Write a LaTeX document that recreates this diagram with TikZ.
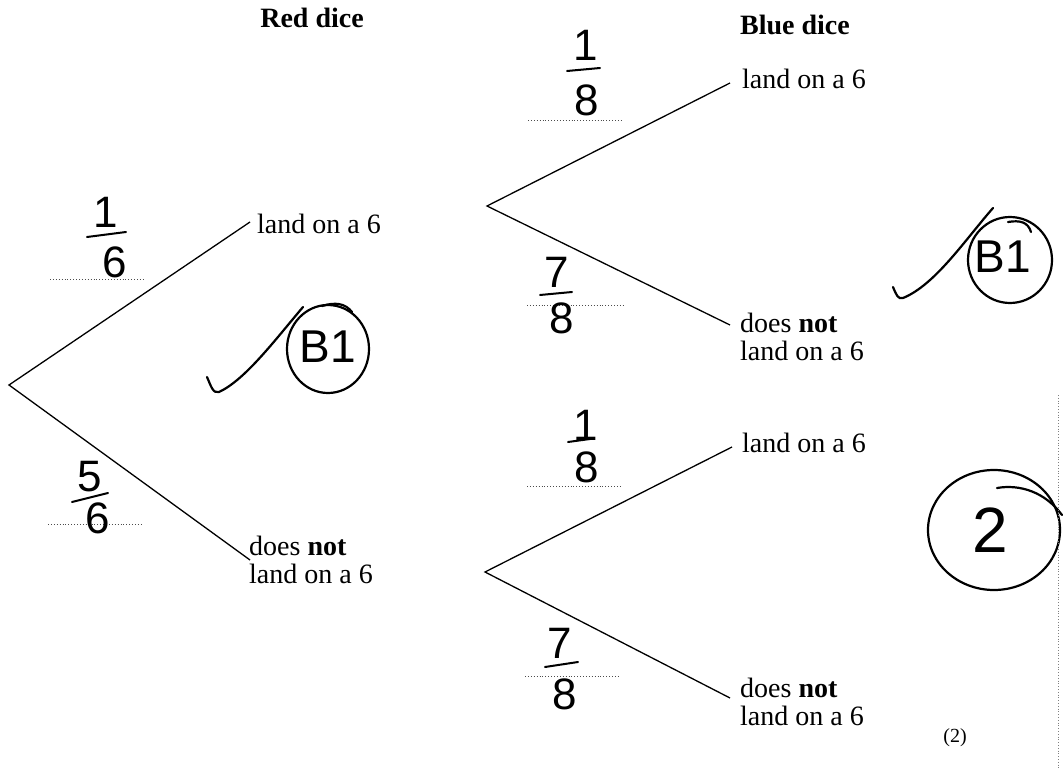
\documentclass[tikz,border=0pt]{standalone}
\usepackage{fontspec}
\setmainfont{Liberation Serif}
\newfontfamily\handfont{Liberation Sans}
\begin{document}
\begin{tikzpicture}[x=1pt,y=-1pt,
  branch/.style={line width=1.3pt},
  lbl/.style={font=\fontsize{28}{28}\selectfont, anchor=west, align=left, inner sep=0pt},
  head/.style={font=\fontsize{28}{28}\selectfont\bfseries, inner sep=0pt},
  digit/.style={font=\handfont\fontsize{44}{44}\selectfont, inner sep=0pt},
  handtext/.style={font=\handfont\fontsize{46}{46}\selectfont, inner sep=0pt},
  fbar/.style={line width=2pt, line cap=round},
  dotline/.style={dotted, line width=0.9pt, black!70},
  hand/.style={line width=2.2pt, line cap=round, line join=round}]
\useasboundingbox (0,0) rectangle (1063,770);

% headings
\node[head] (redh) at (312,18) {Red dice};
\node[head] (blueh) at (795,25) {Blue dice};

% red tree
\coordinate (R0) at (9,385);
\coordinate (R1) at (250,222);
\coordinate (R2) at (250,560);
\draw[branch] (R1) -- (R0) -- (R2);
\node[lbl] (r1) at (257,224) {land on a 6};
\node[lbl] (r2) at (249,560) {does \textbf{not}\\land on a 6};

% blue upper tree
\coordinate (B0) at (487,206);
\coordinate (B1) at (730,83);
\coordinate (B2) at (730,325);
\draw[branch] (B1) -- (B0) -- (B2);
\node[lbl] (b1) at (742,79) {land on a 6};
\node[lbl] (b2) at (740,337) {does \textbf{not}\\land on a 6};

% blue lower tree
\coordinate (C0) at (485,572);
\coordinate (C1) at (732,447);
\coordinate (C2) at (730,698);
\draw[branch] (C1) -- (C0) -- (C2);
\node[lbl] (c1) at (742,443) {land on a 6};
\node[lbl] (c2) at (740,702) {does \textbf{not}\\land on a 6};

% fractions: red 1/6
\draw[dotline] (50,279) -- (145,279);
\node[digit] (n1) at (106,212) {1};
\draw[fbar] (87,237) -- (126,232);
\node[digit] (d1) at (115,262) {6};
% red 5/6
\draw[dotline] (48,524) -- (143,524);
\node[digit] (n2) at (90,477) {5};
\draw[fbar] (72,502) -- (108,493);
\node[digit] (d2) at (98,518) {6};
% blue upper 1/8
\draw[dotline] (528,120) -- (623,120);
\node[digit] (n3) at (586,45) {1};
\draw[fbar] (567,71) -- (600,68);
\node[digit] (d3) at (587,100) {8};
% blue upper 7/8
\draw[dotline] (527,305) -- (623,305);
\node[digit] (n4) at (557,272) {7};
\draw[fbar] (540,295) -- (572,292);
\node[digit] (d4) at (562,318) {8};
% blue lower 1/8
\draw[dotline] (527,486) -- (622,486);
\node[digit] (n5) at (586,425) {1};
\draw[fbar] (568,442) -- (590,439);
\node[digit] (d5) at (587,467) {8};
% blue lower 7/8
\draw[dotline] (525,676) -- (618,676);
\node[digit] (n6) at (560,643) {7};
\draw[fbar] (545,667) -- (578,662);
\node[digit] (d6) at (565,694) {8};

% marks: tick and B1 (left)
\draw[hand] (207,377) .. controls (211,386) and (213,394) .. (219,392) .. controls (245,380) and (275,340) .. (303,307);
\draw[hand] (328,349) ellipse [x radius=41, y radius=44];
\draw[hand] (322,306) .. controls (335,302) and (345,303) .. (352,312);
\node[handtext] (m1) at (328,347) {B1};

% marks: tick and B1 (right)
\draw[hand] (893,287) .. controls (896,294) and (898,300) .. (903,298) .. controls (935,285) and (965,240) .. (993,208);
\draw[hand] (1010,260) ellipse [x radius=42, y radius=43];
\draw[hand] (1008,222) .. controls (1020,220) and (1028,222) .. (1031,232);
\node[handtext] (m2) at (1003,257) {B1};

% circled total
\draw[hand] (994,530) ellipse [x radius=66, y radius=60];
\draw[hand] (997,488) .. controls (1020,484) and (1045,492) .. (1062,515);
\node[handtext, font=\handfont\fontsize{64}{64}\selectfont] (m3) at (990,530) {2};

% marks available
\node[font=\fontsize{20}{20}\selectfont, inner sep=0pt] (tot) at (955,738) {(2)};

% page edge
\draw[dotted, line width=0.8pt, black!50] (1058,395) -- (1058,770);
\end{tikzpicture}
\end{document}
